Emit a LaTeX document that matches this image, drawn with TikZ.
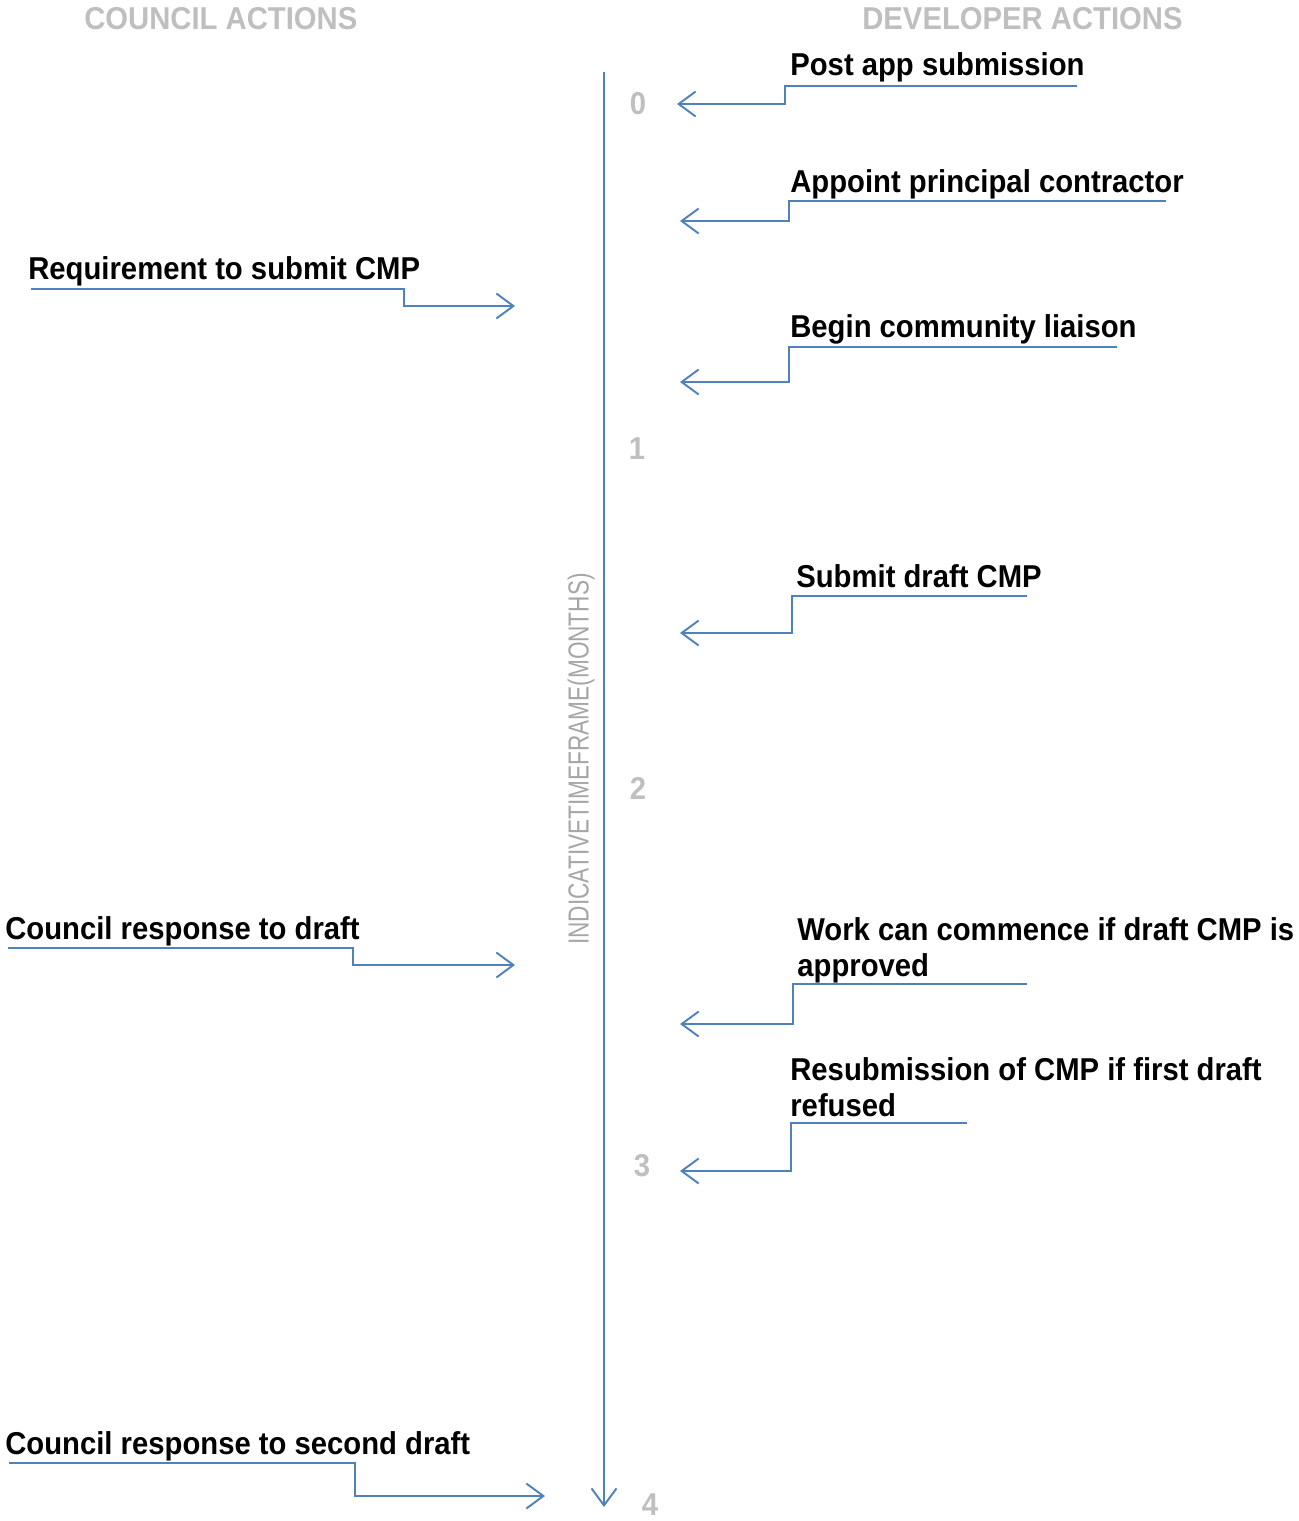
\documentclass[tikz,border=0pt]{standalone}
\usepackage{fontspec}
\setmainfont{Liberation Sans}
\newfontfamily\actfont[FakeStretch=0.925]{Liberation Sans}
\newfontfamily\axfont[FakeStretch=0.78]{Liberation Sans}
\usepackage{tikz}
\usetikzlibrary{positioning, arrows.meta}

\definecolor{lineblue}{HTML}{4F81BD}
\definecolor{headgray}{HTML}{BFBFBF}
\definecolor{axgray}{HTML}{A6A6A6}

\begin{document}
\begin{tikzpicture}[x=0.02cm, y=-0.02cm,
    act/.style={anchor=north west, inner sep=0pt, align=left, font=\actfont\bfseries\fontsize{18}{20.5}\selectfont},
    head/.style={inner sep=0pt, text=headgray, font=\actfont\bfseries\fontsize{18}{20.5}\selectfont},
    tick/.style={inner sep=0pt, text=headgray, font=\actfont\bfseries\fontsize{18}{20.5}\selectfont},
    flow/.style={draw=lineblue, line width=1.1pt, -{Straight Barb[length=0.34cm, width=0.5cm]}},
]
\useasboundingbox (0,0) rectangle (1298,1521);

\node[head, anchor=north west] (council) at (84,7) {COUNCIL ACTIONS};
\node[head, anchor=north west] (developer) at (862,7) {DEVELOPER ACTIONS};

% time axis
\coordinate (axtop) at (604,72);
\coordinate (axbot) at (604,1507);
\draw[flow] (axtop) -- (axbot);
\node[inner sep=0pt, rotate=90, text=axgray, font=\axfont\fontsize{16.5}{18}\selectfont] (axlabel) at (581,759) {INDICATIVETIMEFRAME(MONTHS)};

\foreach \m/\x/\y in {0/638/104, 1/637/449, 2/638/788, 3/642/1166, 4/650/1505} {
    \node[tick] (m\m) at (\x,\y) {\m};
}

% developer actions
\foreach \n/\tx/\ty/\lbl/\yl/\xr/\xe/\yt/\xt in {
    d1/790/52/{Post app submission}/86/1077/785/104/677,
    d2/790/169/{Appoint principal contractor}/201/1166/789/221/680,
    d3/790/314/{Begin community liaison}/347/1117/789/382/680,
    d4/796/564/{Submit draft CMP}/596/1027/792/633/680,
    d5/797/917/{Work can commence if draft CMP is\\approved}/984/1027/793/1024/680,
    d6/790/1057/{Resubmission of CMP if first draft\\refused}/1123/967/791/1171/680} {
    \node[act] (\n) at (\tx,\ty) {\lbl};
    \coordinate (\n s) at (\xr,\yl);
    \coordinate (\n t) at (\xt,\yt);
    \draw[flow] (\n s) -- (\xe,\yl) |- (\n t);
}

% council actions
\foreach \n/\tx/\ty/\lbl/\yl/\xl/\xe/\yt/\xt in {
    c1/28/256/{Requirement to submit CMP}/289/31/404/306/515,
    c2/5/916/{Council response to draft}/948/8/353/965/515,
    c3/5/1431/{Council response to second draft}/1463/9/355/1496/545} {
    \node[act] (\n) at (\tx,\ty) {\lbl};
    \coordinate (\n s) at (\xl,\yl);
    \coordinate (\n t) at (\xt,\yt);
    \draw[flow] (\n s) -- (\xe,\yl) |- (\n t);
}

\end{tikzpicture}
\end{document}
